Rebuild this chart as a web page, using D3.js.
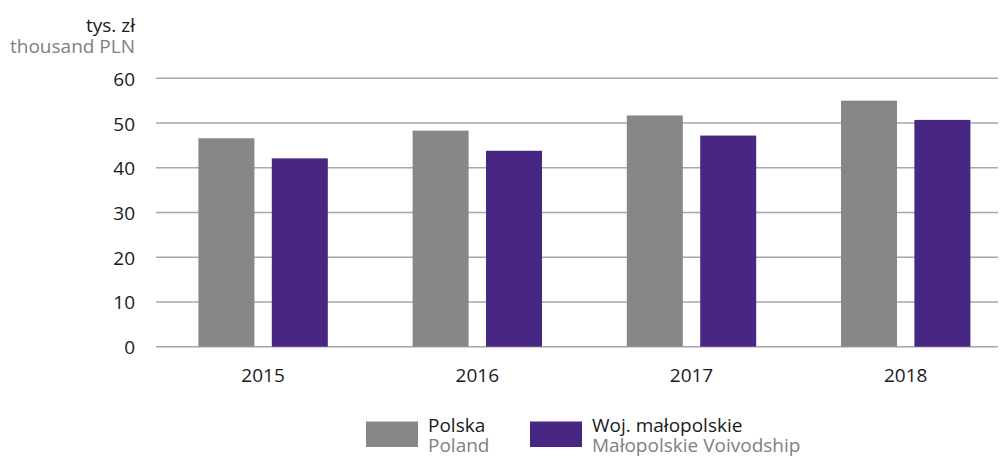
<!DOCTYPE html>
<html><head><meta charset="utf-8">
<script src="https://cdn.jsdelivr.net/npm/d3@7"></script>
<style>body{margin:0;background:#fff}svg{display:block}text{font-family:"Open Sans","Noto Sans",sans-serif}</style>
</head><body><svg id="c" width="1002" height="456"></svg>
<script>
const years = ["2015","2016","2017","2018"];
const polska = [46.6, 48.3, 51.7, 55.0];
const malopolskie = [42.1, 43.8, 47.2, 50.7];
const yTicks = [0,10,20,30,40,50,60];
const seriesNames = [["Polska","Poland"],["Woj. małopolskie","Małopolskie Voivodship"]];
const colors = ["#878785","#482683"];

const svg = d3.select("#c");
const y = d3.scaleLinear().domain([0,60]).range([346.7,78.3]);
const x = d3.scaleBand().domain(years).range([156,1012.8]).padding(0);
const fs = 19;

svg.append("g").selectAll("line").data(yTicks).join("line")
  .attr("x1",156).attr("x2",998).attr("y1",d=>y(d)).attr("y2",d=>y(d))
  .attr("stroke","#a8a8a8").attr("stroke-width",1.6);

svg.append("g").selectAll("text").data(yTicks).join("text")
  .attr("x",135).attr("y",d=>y(d)+7.5).attr("text-anchor","end")
  .attr("font-size",fs).attr("fill","#1a1a1a").text(d=>d);

const data = years.map((yr,i)=>({yr, vals:[polska[i], malopolskie[i]]}));
const bw = 56, gap = 8.7;
const g = svg.append("g");
data.forEach(d=>{
  const c = x(d.yr)+x.bandwidth()/2;
  d.vals.forEach((v,k)=>{
    const x0 = k===0 ? c-gap-bw : c+gap;
    g.append("rect").attr("x",x0).attr("width",bw)
      .attr("y",y(v)).attr("height",y(0)-y(v)).attr("fill",colors[k]);
  });
});

svg.append("g").selectAll("text").data(years).join("text")
  .attr("x",d=>x(d)+x.bandwidth()/2).attr("y",382).attr("text-anchor","middle")
  .attr("font-size",fs).attr("fill","#1a1a1a").text(d=>d);

svg.append("text").attr("x",135).attr("y",32).attr("text-anchor","end")
  .attr("font-size",fs).attr("fill","#1a1a1a").text("tys. zł");
svg.append("text").attr("x",135).attr("y",53).attr("text-anchor","end")
  .attr("font-size",fs).attr("fill","#808080").text("thousand PLN");

const legX = [366,530];
seriesNames.forEach((n,k)=>{
  svg.append("rect").attr("x",legX[k]).attr("y",421.5).attr("width",k===0?52:52).attr("height",25.5).attr("fill",colors[k]);
  svg.append("text").attr("x",legX[k]+62).attr("y",431.5).attr("font-size",fs).attr("fill","#1a1a1a").text(n[0]);
  svg.append("text").attr("x",legX[k]+62).attr("y",451.5).attr("font-size",fs).attr("fill","#808080").text(n[1]);
});
</script></body></html>
